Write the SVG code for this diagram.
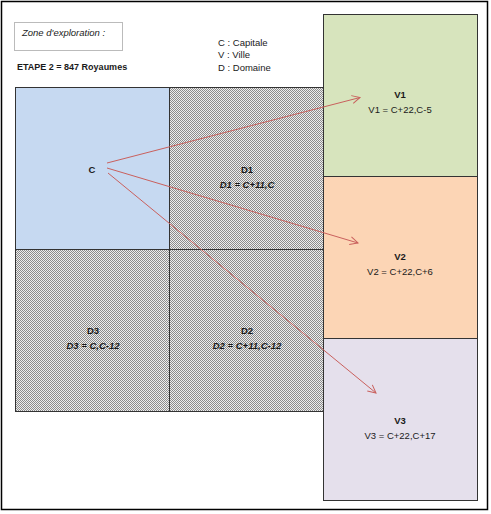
<svg xmlns="http://www.w3.org/2000/svg" width="491" height="514" viewBox="0 0 491 514">
<style>
text{font-family:"Liberation Sans","DejaVu Sans",sans-serif;font-size:9.5px;fill:#1a1a1a}
.b{font-weight:bold}
.bi{font-weight:bold;font-style:italic}
.i{font-style:italic}
.m{text-anchor:middle}
.cell{stroke:#333;stroke-width:1}
.conn{stroke:#c9605d;stroke-width:1;fill:none;marker-end:url(#ah)}
</style>
<defs>
<pattern id="hatch" width="2" height="2" patternUnits="userSpaceOnUse">
<rect width="2" height="2" fill="#eeeeee"/>
<rect width="1" height="1" fill="#8c8c8c"/>
<rect x="1" y="1" width="1" height="1" fill="#8c8c8c"/>
</pattern>
<marker id="ah" markerWidth="10" markerHeight="10" refX="9" refY="5" orient="auto" markerUnits="userSpaceOnUse">
<path d="M1,1 L9,5 L1,9" fill="none" stroke="#c9605d" stroke-width="1"/>
</marker>
</defs>
<rect x="0" y="0" width="491" height="514" fill="#fff"/>
<rect x="1.5" y="1.5" width="486" height="508" fill="none" stroke="#000" stroke-width="1.5"/>
<g id="zone">
<rect x="14.5" y="22.5" width="108" height="28" fill="#fff" stroke="#bbb"/>
<text x="22" y="36" class="i">Zone d'exploration :</text>
</g>
<g id="etape"><text x="17" y="70" class="b" style="font-size:9px">ETAPE 2 = 847 Royaumes</text></g>
<g id="legend">
<text x="218" y="46">C : Capitale</text>
<text x="218" y="58">V : Ville</text>
<text x="218" y="71">D : Domaine</text>
</g>
<g id="C"><rect class="cell" x="15.5" y="87.5" width="154" height="162" fill="#c6d9f1"/><text x="92" y="173" class="b m">C</text></g>
<g id="D1"><rect class="cell" x="169.5" y="87.5" width="154" height="162" fill="url(#hatch)"/><text x="247" y="173" class="b m">D1</text><text x="247" y="188" class="bi m">D1 = C+11,C</text></g>
<g id="D3"><rect class="cell" x="15.5" y="249.5" width="154" height="162" fill="url(#hatch)"/><text x="93" y="334" class="b m">D3</text><text x="93" y="349" class="bi m">D3 = C,C-12</text></g>
<g id="D2"><rect class="cell" x="169.5" y="249.5" width="154" height="162" fill="url(#hatch)"/><text x="247" y="334" class="b m">D2</text><text x="247" y="349" class="bi m">D2 = C+11,C-12</text></g>
<g id="V1"><rect class="cell" x="323.5" y="14.5" width="154" height="162" fill="#d7e4bd"/><text x="400" y="98" class="b m">V1</text><text x="400" y="113" class="m">V1 = C+22,C-5</text></g>
<g id="V2"><rect class="cell" x="323.5" y="176.5" width="154" height="162" fill="#fcd5b5"/><text x="400" y="260" class="b m">V2</text><text x="400" y="275" class="m">V2 = C+22,C+6</text></g>
<g id="V3"><rect class="cell" x="323.5" y="338.5" width="154" height="162" fill="#e5e0ec"/><text x="400" y="424" class="b m">V3</text><text x="400" y="439" class="m">V3 = C+22,C+17</text></g>
<g id="connectors">
<line class="conn" x1="107" y1="163" x2="360" y2="97.5"/>
<line class="conn" x1="107" y1="168" x2="358" y2="243"/>
<line class="conn" x1="108" y1="173" x2="376" y2="393"/>
</g>
</svg>
